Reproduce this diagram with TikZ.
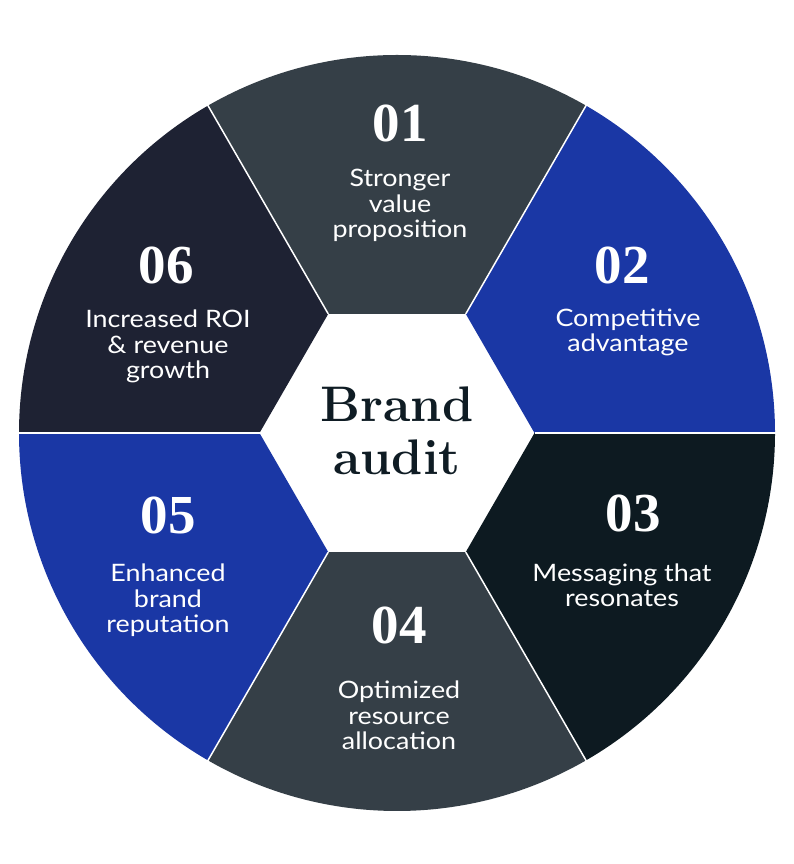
\documentclass[tikz,border=0pt]{standalone}
\usepackage{fontspec}
\newfontfamily\labelfont[FakeStretch=1.12]{Lato}
\newfontfamily\numfont{Liberation Serif}
\definecolor{segslate}{HTML}{353F47}
\definecolor{segblue}{HTML}{1A37A5}
\definecolor{segblack}{HTML}{0D1A21}
\definecolor{segnavy}{HTML}{1E2233}
\definecolor{titleink}{HTML}{0F1C24}
\tikzset{
  segnum/.style={inner sep=0pt, text=white, font=\numfont\bfseries\fontsize{55}{55}\selectfont, anchor=center},
  seglabel/.style={inner sep=0pt, text=white, align=center, font=\labelfont\fontsize{24}{25.5}\selectfont, anchor=base},
  sepline/.style={draw=white, line width=1.5pt},
}
\begin{document}
\begin{tikzpicture}[x=1pt,y=1pt]
\fill[white] (0,0) rectangle (794,864);
\useasboundingbox (0,0) rectangle (794,864);
\begin{scope}[shift={(397,431)}]
  % segments
  \fill[segslate] (60:137.5) -- (60:378) arc[start angle=60, end angle=120, radius=378] -- (120:137.5) -- cycle;
  \fill[segblue] (0:137.5) -- (0:378) arc[start angle=0, end angle=60, radius=378] -- (60:137.5) -- cycle;
  \fill[segblack] (-60:137.5) -- (-60:378) arc[start angle=-60, end angle=0, radius=378] -- (0:137.5) -- cycle;
  \fill[segslate] (240:137.5) -- (240:378) arc[start angle=240, end angle=300, radius=378] -- (300:137.5) -- cycle;
  \fill[segblue] (180:137.5) -- (180:378) arc[start angle=180, end angle=240, radius=378] -- (240:137.5) -- cycle;
  \fill[segnavy] (120:137.5) -- (120:378) arc[start angle=120, end angle=180, radius=378] -- (180:137.5) -- cycle;
  % hexagon vertices and rim points
  \foreach \a in {0,60,...,300} {
    \coordinate (hv\a) at (\a:137.5);
    \coordinate (rim\a) at (\a:379);
    \draw[sepline] (hv\a) -- (rim\a);
  }
\end{scope}
% central title (anchor=base is the last line's baseline)
\node[inner sep=0pt, anchor=base, align=center, text=titleink,
      font=\bfseries\fontsize{50}{53}\selectfont] (title) at (397,389) {Brand\\audit};
% numbers
\node[segnum] (n1) at (400,741) {01};
\node[segnum] (n2) at (622,599) {02};
\node[segnum] (n3) at (633,351) {03};
\node[segnum] (n4) at (399,239) {04};
\node[segnum] (n5) at (168,349) {05};
\node[segnum] (n6) at (166,599) {06};
% labels (anchor at last line's baseline)
\node[seglabel] (l1) at (400,626) {Stronger\\value\\proposition};
\node[seglabel] (l2) at (628,512) {Competitive\\advantage};
\node[seglabel] (l3) at (622,257) {Messaging that\\resonates};
\node[seglabel] (l4) at (399,114) {Optimized\\resource\\allocation};
\node[seglabel] (l5) at (168,231) {Enhanced\\brand\\reputation};
\node[seglabel] (l6) at (168,485) {Increased ROI\\\& revenue\\growth};
\end{tikzpicture}
\end{document}
